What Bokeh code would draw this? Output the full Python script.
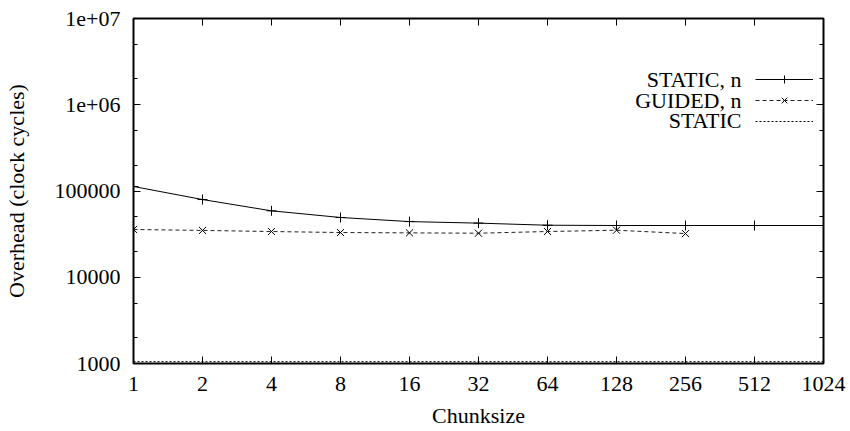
from bokeh.plotting import figure
from bokeh.models import LogAxis, FixedTicker, Range1d, Legend, LegendItem, ColumnDataSource, Label
from bokeh.core.properties import value
from bokeh.embed import file_html
from bokeh.resources import INLINE

# ---- data ----
chunks = [1, 2, 4, 8, 16, 32, 64, 128, 256, 512, 1024]
chunk_labels = ["1", "2", "4", "8", "16", "32", "64", "128", "256", "512", "1024"]
static_n = [112800, 79600, 58900, 49300, 44200, 42400, 40100, 39800, 39800, 39800, 39800]
guided_chunks = [1, 2, 4, 8, 16, 32, 64, 128, 256]
guided_n = [35800, 34900, 33900, 33000, 32700, 32400, 33900, 35100, 32100]
static_plain = [1050, 1050, 1050, 1050, 1050, 1050, 1050, 1050, 1050, 1050, 1050]
y_ticks = [1000, 10000, 100000, 1000000, 10000000]
y_tick_labels = ["1000", "10000", "100000", "1e+06", "1e+07"]
y_minor = [2000, 5000, 20000, 50000, 200000, 500000, 2000000, 5000000]
series_names = ["STATIC, n", "GUIDED, n", "STATIC"]
x_title = "Chunksize"
y_title = "Overhead (clock cycles)"

FONT = "Liberation Serif"
FS = "22px"

p = figure(width=850, height=431, x_axis_type="log", y_axis_type="log",
           x_range=Range1d(1, 1024), y_range=Range1d(1000, 1e7),
           output_backend="svg", toolbar_location=None,
           min_border_left=133, min_border_right=27, min_border_top=18, min_border_bottom=68)
p.grid.visible = False
p.outline_line_color = "black"
p.outline_line_width = 2
p.background_fill_color = "white"
p.border_fill_color = "white"

xt = FixedTicker(ticks=chunks, minor_ticks=[])
yt = FixedTicker(ticks=y_ticks, minor_ticks=y_minor)

def style_axis(ax, ticker, show_labels, labels_src, labels_txt):
    ax.ticker = ticker
    ax.axis_line_color = None
    ax.major_tick_in = 7
    ax.major_tick_out = 0
    ax.minor_tick_in = 4
    ax.minor_tick_out = 0
    ax.major_tick_line_color = "black"
    ax.minor_tick_line_color = "black"
    ax.major_tick_line_width = 1
    ax.minor_tick_line_width = 1
    ax.major_label_text_font = FONT
    ax.axis_label_text_font = FONT
    ax.axis_label_text_font_style = "normal"
    ax.axis_label_text_color = "black"
    ax.axis_label_text_font_size = FS
    ax.major_label_text_color = "black"
    if show_labels:
        ax.major_label_text_font_size = FS
        ax.major_label_overrides = {t: l for t, l in zip(labels_src, labels_txt)}
    else:
        ax.major_label_text_font_size = "10px"
        ax.major_label_overrides = {t: "" for t in labels_src}
        ax.major_label_standoff = 0

xa = p.xaxis[0]
style_axis(xa, xt, True, chunks, chunk_labels)
xa.major_label_standoff = 13
xa.axis_label = x_title
xa.axis_label_standoff = 9

ya = p.yaxis[0]
style_axis(ya, yt, True, y_ticks, y_tick_labels)
ya.major_label_standoff = 13
ya.axis_label = y_title
ya.axis_label_standoff = 23

top = LogAxis()
style_axis(top, xt, False, chunks, chunk_labels)
p.add_layout(top, "above")
right = LogAxis()
style_axis(right, yt, False, y_ticks, y_tick_labels)
p.add_layout(right, "right")

src_s = ColumnDataSource(dict(x=chunks, y=static_n))
src_g = ColumnDataSource(dict(x=guided_chunks, y=guided_n))
src_p = ColumnDataSource(dict(x=chunks, y=static_plain))

l1 = p.line("x", "y", source=src_s, line_color="black", line_width=1)
m1 = p.scatter("x", "y", source=src_s, marker="cross", size=10, line_color="black", line_width=1)
l2 = p.line("x", "y", source=src_g, line_color="#222222", line_width=1, line_dash="4 3")
m2 = p.scatter("x", "y", source=src_g, marker="x", size=10, line_color="black", line_width=1)
l3 = p.line("x", "y", source=src_p, line_color="black", line_width=1, line_dash="2 2")

# legend keys (glyph samples) from Bokeh's legend, texts right-aligned to their left
legend = Legend(items=[
    LegendItem(label=value(""), renderers=[l1, m1]),
    LegendItem(label=value(""), renderers=[l2, m2]),
    LegendItem(label=value(""), renderers=[l3]),
], location=(622, 232))
legend.background_fill_alpha = 0
legend.border_line_color = None
legend.padding = 0
legend.margin = 0
legend.glyph_width = 58
legend.glyph_height = 20
legend.label_height = 20
legend.spacing = 1
legend.label_standoff = 0
legend.label_text_font_size = "10px"
p.add_layout(legend)

for name, sy in zip(series_names, [284, 263, 243]):
    p.add_layout(Label(x=608, y=sy, x_units="screen", y_units="screen", text=name,
                       text_align="right", text_baseline="middle",
                       text_font=FONT, text_font_size=FS, text_color="black"))

open("out.html", "w").write(file_html(p, INLINE))
